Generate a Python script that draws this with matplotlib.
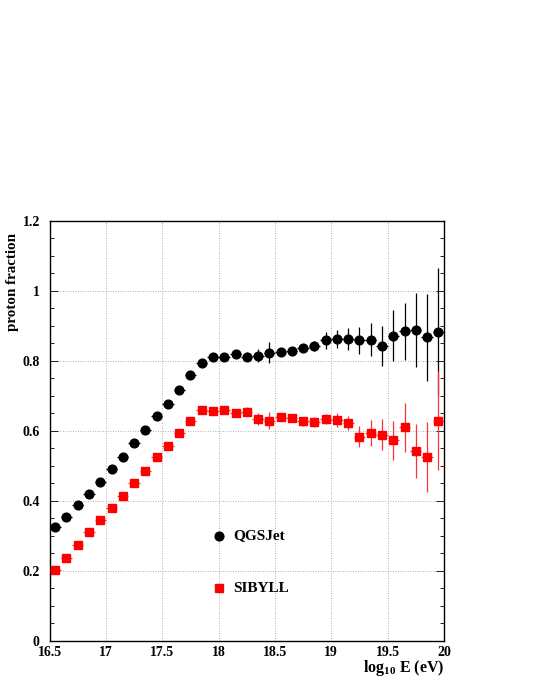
import matplotlib
matplotlib.use('Agg')

import matplotlib.pyplot as plt
import numpy as np

plt.rcParams['font.family'] = ['Liberation Serif', 'DejaVu Serif']
plt.rcParams['font.weight'] = 'bold'
plt.rcParams['mathtext.fontset'] = 'custom'
plt.rcParams['mathtext.rm'] = 'Liberation Serif:bold'
plt.rcParams['mathtext.bf'] = 'Liberation Serif:bold'
plt.rcParams['mathtext.it'] = 'Liberation Serif:bold'

# bin centres in log10(E/eV)
log_e = [16.55, 16.65, 16.75, 16.85, 16.95, 17.05, 17.15, 17.25, 17.35, 17.45,
         17.55, 17.65, 17.75, 17.85, 17.95, 18.05, 18.15, 18.25, 18.35, 18.45,
         18.55, 18.65, 18.75, 18.85, 18.95, 19.05, 19.15, 19.25, 19.35, 19.45,
         19.55, 19.65, 19.75, 19.85, 19.95]

qgsjet = [0.323, 0.353, 0.386, 0.418, 0.454, 0.491, 0.525, 0.563, 0.601, 0.641,
          0.675, 0.715, 0.759, 0.793, 0.811, 0.811, 0.818, 0.811, 0.814, 0.822,
          0.824, 0.826, 0.835, 0.841, 0.858, 0.862, 0.862, 0.858, 0.860, 0.841,
          0.871, 0.883, 0.887, 0.866, 0.881]
qgsjet_err = [0.005, 0.005, 0.005, 0.005, 0.005, 0.005, 0.005, 0.005, 0.005, 0.005,
              0.005, 0.005, 0.006, 0.006, 0.007, 0.008, 0.012, 0.012, 0.019, 0.030,
              0.010, 0.010, 0.012, 0.015, 0.024, 0.026, 0.032, 0.039, 0.047, 0.057,
              0.073, 0.082, 0.106, 0.125, 0.183]

sibyll = [0.201, 0.235, 0.273, 0.310, 0.344, 0.380, 0.414, 0.451, 0.485, 0.523,
          0.555, 0.593, 0.626, 0.658, 0.656, 0.658, 0.651, 0.654, 0.633, 0.628,
          0.639, 0.635, 0.626, 0.624, 0.633, 0.629, 0.622, 0.582, 0.593, 0.588,
          0.572, 0.609, 0.542, 0.525, 0.628]
sibyll_err = [0.005, 0.005, 0.005, 0.005, 0.005, 0.005, 0.005, 0.005, 0.005, 0.005,
              0.005, 0.005, 0.006, 0.007, 0.008, 0.009, 0.010, 0.012, 0.016, 0.025,
              0.012, 0.012, 0.012, 0.014, 0.015, 0.020, 0.020, 0.030, 0.037, 0.045,
              0.055, 0.069, 0.078, 0.100, 0.141]

bin_half = 0.05

fig = plt.figure(figsize=(5.33, 6.9), dpi=100)
ax = fig.add_axes([0.093, 0.0717, 0.740, 0.6087])

ax.errorbar(log_e, qgsjet, yerr=qgsjet_err, xerr=bin_half, fmt='o', color='black',
            ms=6.3, elinewidth=0.9, capsize=0, zorder=3)
ax.errorbar(log_e, sibyll, yerr=sibyll_err, xerr=bin_half, fmt='s', color='#ff0000',
            ecolor='#ff3030', ms=6.3, elinewidth=0.9, capsize=0, zorder=3)

ax.set_xlim(16.5, 20)
ax.set_ylim(0, 1.2)
ax.set_xticks(np.arange(16.5, 20.01, 0.5))
ax.set_xticklabels(['16.5', '17', '17.5', '18', '18.5', '19', '19.5', '20'])
ax.set_yticks(np.arange(0, 1.21, 0.2))
ax.set_yticklabels(['0', '0.2', '0.4', '0.6', '0.8', '1', '1.2'])
ax.set_yticks(np.arange(0, 1.21, 0.05), minor=True)
ax.tick_params(which='both', direction='in', right=True, labelsize=10)
ax.tick_params(axis='y', pad=7)
ax.tick_params(axis='x', pad=4)
ax.tick_params(which='major', length=6, width=0.6)
ax.tick_params(which='minor', length=3, width=0.6)
ax.tick_params(axis='x', which='major', length=0)
for lab in ax.get_xticklabels() + ax.get_yticklabels():
    lab.set_fontweight('bold')

ax.grid(True, which='major', linestyle=(0, (1, 2)), color='#999999', linewidth=0.6)
for s in ax.spines.values():
    s.set_linewidth(1.0)

fig.text(0.024, 0.662, 'proton fraction', rotation=90, fontsize=10.8,
         fontweight='bold', ha='center', va='top')
fig.text(0.833, 0.046, r'log$_{10}$ E (eV)', fontsize=11.5, fontweight='bold',
         ha='right', va='top')

# legend drawn like the ROOT TLegend: marker + label inside the frame
ax.plot([18.0], [0.3], 'o', color='black', ms=6.3)
ax.text(18.13, 0.3, 'QGSJet', fontsize=11, fontweight='bold', va='center')
ax.plot([18.0], [0.15], 's', color='#ff0000', ms=6.3)
ax.text(18.13, 0.15, 'SIBYLL', fontsize=11, fontweight='bold', va='center')

plt.savefig('out.png', dpi=100)
